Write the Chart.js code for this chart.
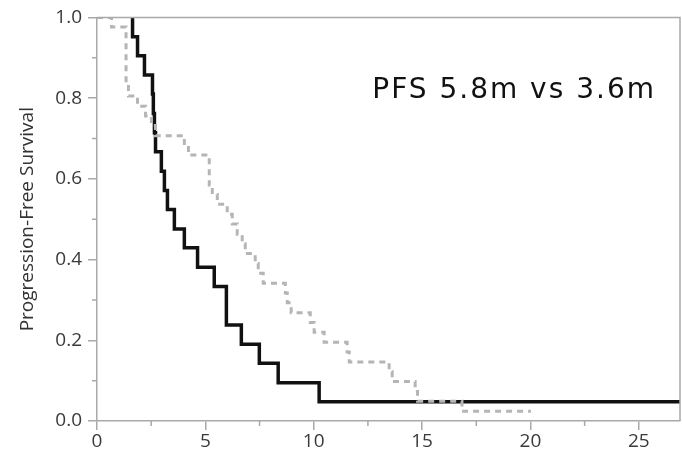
<!DOCTYPE html>
<html>
<head>
<meta charset="utf-8">
<script src="https://cdn.jsdelivr.net/npm/chart.js@4/dist/chart.umd.min.js"></script>
<style>
  html, body { margin: 0; padding: 0; background: #fff; }
  #wrap { width: 682px; height: 456px; position: relative; }
</style>
</head>
<body>
<div id="wrap"><canvas id="km-chart"></canvas></div>
<script>
// Kaplan-Meier steps: drop times (months) and survival after each drop
var blackTimes = [1.64, 1.64, 1.87, 2.19, 2.56, 2.60, 2.65, 2.70, 2.97, 3.11, 3.25, 3.57, 4.03, 4.64, 5.41, 5.97, 6.66, 7.49, 8.36, 10.25, 26.9];
var blackSurv  = [1.0, 0.952, 0.905, 0.857, 0.810, 0.762, 0.714, 0.667, 0.619, 0.571, 0.524, 0.476, 0.429, 0.381, 0.333, 0.238, 0.190, 0.143, 0.095, 0.048, 0.048];

var grayTimes = [0, 0.67, 1.34, 1.45, 1.87, 2.24, 2.51, 2.70, 4.03, 4.22, 5.18, 5.32, 5.55, 6.01, 6.24, 6.47, 6.70, 6.84, 7.30, 7.44, 7.67, 8.69, 8.78, 8.96, 9.84, 10.02, 10.48, 11.54, 11.64, 13.48, 13.62, 14.68, 14.79, 16.84, 20.02];
var graySurv  = [1.0, 0.976, 0.829, 0.805, 0.780, 0.756, 0.732, 0.707, 0.683, 0.659, 0.585, 0.561, 0.537, 0.512, 0.488, 0.463, 0.439, 0.415, 0.390, 0.366, 0.341, 0.317, 0.293, 0.268, 0.244, 0.220, 0.195, 0.171, 0.146, 0.122, 0.098, 0.073, 0.049, 0.024, 0.024];

var xTicks = [0, 5, 10, 15, 20, 25];
var yTicks = [0, 0.2, 0.4, 0.6, 0.8, 1.0];
var xMinor = [2.5, 7.5, 12.5, 17.5, 22.5];
var yMinor = [0.1, 0.3, 0.5, 0.7, 0.9];

var axisTitle = 'Progression-Free Survival';
var pfsText = 'PFS 5.8m vs 3.6m';

function toPoints(xs, ys) {
  return xs.map(function(x, i) { return { x: x, y: ys[i] }; });
}

var axisColor = '#a9a9a9';
var tickFont = { family: '"Open Sans"', size: 19 };

// frame on top/right, short minor ticks and the PFS note
var extras = {
  id: 'extras',
  afterDraw: function(chart) {
    var ctx = chart.ctx, a = chart.chartArea;
    var xs = chart.scales.x, ys = chart.scales.y;
    ctx.save();
    ctx.strokeStyle = axisColor;
    ctx.lineWidth = 1.5;
    ctx.beginPath();
    ctx.moveTo(a.left, a.top);
    ctx.lineTo(a.right, a.top);
    ctx.lineTo(a.right, a.bottom);
    ctx.stroke();
    ctx.beginPath();
    yMinor.forEach(function(v) {
      var p = ys.getPixelForValue(v);
      ctx.moveTo(a.left - 5, p);
      ctx.lineTo(a.left, p);
    });
    xMinor.forEach(function(v) {
      var p = xs.getPixelForValue(v);
      ctx.moveTo(p, a.bottom);
      ctx.lineTo(p, a.bottom + 5);
    });
    ctx.stroke();

    ctx.fillStyle = '#111';
    ctx.font = '28px "DejaVu Sans"';
    ctx.letterSpacing = '2px';
    ctx.textAlign = 'left';
    ctx.textBaseline = 'alphabetic';
    ctx.fillText(pfsText, xs.getPixelForValue(12.7), ys.getPixelForValue(0.8));
    ctx.restore();
  }
};

var ctx = document.getElementById('km-chart');
var chart = new Chart(ctx, {
  type: 'line',
  data: {
    datasets: [{
      label: 'gray',
      data: toPoints(grayTimes, graySurv),
      borderColor: '#b5b5b5',
      borderWidth: 3,
      borderDash: [6, 5],
      stepped: true,
      pointRadius: 0,
      fill: false
    }, {
      label: 'black',
      data: toPoints(blackTimes, blackSurv),
      borderColor: '#111111',
      borderWidth: 3.5,
      stepped: true,
      pointRadius: 0,
      fill: false
    }]
  },
  options: {
    responsive: true,
    maintainAspectRatio: false,
    animation: false,
    layout: { padding: { top: 17, right: 2, left: 0, bottom: 0 } },
    plugins: {
      legend: { display: false },
      tooltip: { enabled: false }
    },
    scales: {
      x: {
        type: 'linear',
        min: 0,
        max: 26.9,
        afterBuildTicks: function(scale) {
          scale.ticks = xTicks.map(function(v) { return { value: v }; });
        },
        afterFit: function(scale) { scale.height = 35; },
        grid: { drawOnChartArea: false, tickLength: 9, color: axisColor, lineWidth: 1.5 },
        border: { color: axisColor, width: 1.5 },
        ticks: { color: '#3a3a3a', font: tickFont, padding: 0, maxRotation: 0 }
      },
      y: {
        min: 0,
        max: 1,
        afterBuildTicks: function(scale) {
          scale.ticks = yTicks.map(function(v) { return { value: v }; });
        },
        afterFit: function(scale) { scale.width = 97; },
        grid: { drawOnChartArea: false, tickLength: 9, color: axisColor, lineWidth: 1.5 },
        border: { color: axisColor, width: 1.5 },
        ticks: {
          color: '#3a3a3a',
          font: tickFont,
          padding: 6,
          callback: function(v) { return Number(v).toFixed(1); }
        },
        title: {
          display: true,
          text: axisTitle,
          color: '#333',
          font: { family: '"Open Sans"', size: 19 },
          padding: { top: 16, bottom: 0 }
        }
      }
    }
  },
  plugins: [extras]
});
</script>
</body>
</html>
